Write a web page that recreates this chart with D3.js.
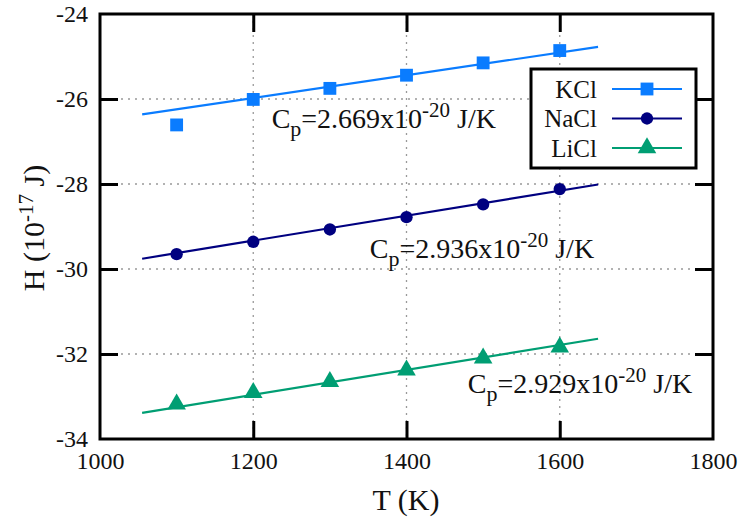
<!DOCTYPE html>
<html>
<head>
<meta charset="utf-8">
<script src="https://cdn.jsdelivr.net/npm/d3@7"></script>
<style>
  html, body { margin: 0; padding: 0; background: #fff; }
  svg { display: block; }
  text { font-family: "Liberation Serif", "DejaVu Serif", serif; fill: #111; }
</style>
</head>
<body>
<svg id="chart" width="742" height="525"></svg>
<script>
// Temperatures (K)
const temperatures = [1100, 1200, 1300, 1400, 1500, 1600];
// Enthalpy H (1e-17 J) per salt
const kclH  = [-26.61, -26.01, -25.75, -25.44, -25.15, -24.86];
const naclH = [-29.65, -29.36, -29.07, -28.78, -28.48, -28.12];
const liclH = [-33.18, -32.91, -32.65, -32.38, -32.10, -31.84];
// Fitted heat capacities (1e-20 J/K) and fit anchor (T, H)
const salts = ["KCl", "NaCl", "LiCl"];
const cpValues = [2.669, 2.936, 2.929];
const fitAnchorT = [1352, 1352, 1352];
const fitAnchorH = [-25.57, -28.886, -32.514];
const fitRange = [1055, 1650];
// Axis ticks
const xTicks = [1000, 1200, 1400, 1600, 1800];
const yTicks = [-34, -32, -30, -28, -26, -24];

const svg = d3.select("#chart");
const x = d3.scaleLinear().domain([1000, 1800]).range([100, 713]);
const y = d3.scaleLinear().domain([-34, -24]).range([439, 14]);

const colors = ["#0a7cff", "#000080", "#009e73"];
const series = [kclH, naclH, liclH];

// grid
const grid = svg.append("g");
grid.selectAll("line.gx").data(xTicks.slice(1, -1)).enter().append("line")
  .attr("x1", d => x(d)).attr("x2", d => x(d))
  .attr("y1", y(-24)).attr("y2", y(-34))
  .attr("stroke", "#999").attr("stroke-width", 1.3).attr("stroke-dasharray", "2,5");
grid.selectAll("line.gy").data(yTicks.slice(1, -1)).enter().append("line")
  .attr("y1", d => y(d)).attr("y2", d => y(d))
  .attr("x1", x(1000)).attr("x2", x(1800))
  .attr("stroke", "#999").attr("stroke-width", 1.3).attr("stroke-dasharray", "2,5");

// axes with inward ticks
const tickLen = 18;
const axisB = d3.axisBottom(x).tickValues(xTicks).tickSize(-tickLen).tickPadding(tickLen + 10).tickFormat(d3.format("d"));
const axisT = d3.axisTop(x).tickValues(xTicks.slice(1, -1)).tickSize(-tickLen).tickFormat("");
const axisL = d3.axisLeft(y).tickValues(yTicks).tickSize(-tickLen).tickPadding(tickLen + 10).tickFormat(d => d);
const axisR = d3.axisRight(y).tickValues(yTicks.slice(1, -1)).tickSize(-tickLen).tickFormat("");

function styleAxis(g) {
  g.select(".domain").remove();
  g.selectAll(".tick line").attr("stroke", "#000").attr("stroke-width", 3);
  g.selectAll(".tick text").style("font-size", "24px").attr("fill", "#111");
}
svg.append("g").attr("transform", `translate(0,${y(-34)})`).call(axisB).call(styleAxis)
  .selectAll(".tick text").attr("dy", "0.35em").attr("y", 22);
svg.append("g").attr("transform", `translate(0,${y(-24)})`).call(axisT).call(styleAxis);
svg.append("g").attr("transform", `translate(${x(1000)},0)`).call(axisL).call(styleAxis)
  .selectAll(".tick text").attr("x", -12);
svg.append("g").attr("transform", `translate(${x(1800)},0)`).call(axisR).call(styleAxis);
// no tick marks at the frame corners
svg.selectAll(".tick").filter(d => d === 1000 || d === 1800 || d === -24 || d === -34).select("line").remove();

// fit lines using stated heat capacities
const line = d3.line().x(d => x(d[0])).y(d => y(d[1]));
salts.forEach((s, i) => {
  const slope = cpValues[i] * 1e-3; // 1e-20 J/K -> 1e-17 J per K
  const pts = fitRange.map(t => [t, fitAnchorH[i] + slope * (t - fitAnchorT[i])]);
  svg.append("path").attr("d", line(pts)).attr("fill", "none")
    .attr("stroke", colors[i]).attr("stroke-width", 2.2);
});

// markers
const symbols = [d3.symbolSquare, d3.symbolCircle, d3.symbolTriangle];
const sizes = [165, 120, 150];
series.forEach((vals, i) => {
  svg.append("g").selectAll("path").data(vals).enter().append("path")
    .attr("d", d3.symbol().type(symbols[i]).size(sizes[i]))
    .attr("transform", (d, j) => `translate(${x(temperatures[j])},${y(d)})`)
    .attr("fill", colors[i]);
});

// Cp labels
const labelPos = [[1224, -26.68], [1352, -29.74], [1480, -32.92]];
salts.forEach((s, i) => {
  const t = svg.append("text").attr("x", x(labelPos[i][0])).attr("y", y(labelPos[i][1]))
    .style("font-size", "28px");
  t.append("tspan").text("C");
  t.append("tspan").text("p").attr("dy", 8).style("font-size", "22px");
  t.append("tspan").text("=" + cpValues[i].toFixed(3) + "x10").attr("dy", -8);
  t.append("tspan").text("-20").attr("dy", -11).style("font-size", "21px");
  t.append("tspan").text(" J/K").attr("dy", 11);
});

// frame
svg.append("rect").attr("x", x(1000)).attr("y", y(-24))
  .attr("width", x(1800) - x(1000)).attr("height", y(-34) - y(-24))
  .attr("fill", "none").attr("stroke", "#000").attr("stroke-width", 3);

// legend
const lg = svg.append("g");
lg.append("rect").attr("x", 531).attr("y", 69).attr("width", 165).attr("height", 99)
  .attr("fill", "#fff").attr("stroke", "#000").attr("stroke-width", 3);
salts.forEach((s, i) => {
  const cy = 89 + i * 29.5;
  lg.append("text").attr("x", 597).attr("y", cy).attr("dy", "0.35em")
    .attr("text-anchor", "end").style("font-size", "25px").text(s);
  lg.append("line").attr("x1", 612).attr("x2", 682).attr("y1", cy).attr("y2", cy)
    .attr("stroke", colors[i]).attr("stroke-width", 2.2);
  lg.append("path").attr("d", d3.symbol().type(symbols[i]).size(sizes[i])())
    .attr("transform", `translate(647,${cy})`).attr("fill", colors[i]);
});

// axis titles
svg.append("text").attr("x", 406).attr("y", 510).attr("text-anchor", "middle")
  .style("font-size", "30px").text("T (K)");
const yt = svg.append("text").attr("transform", "translate(44,228) rotate(-90)")
  .attr("text-anchor", "middle").style("font-size", "30px");
yt.append("tspan").text("H (10");
yt.append("tspan").text("-17").attr("dy", -11).style("font-size", "21px");
yt.append("tspan").text(" J)").attr("dy", 11);
</script>
</body>
</html>
